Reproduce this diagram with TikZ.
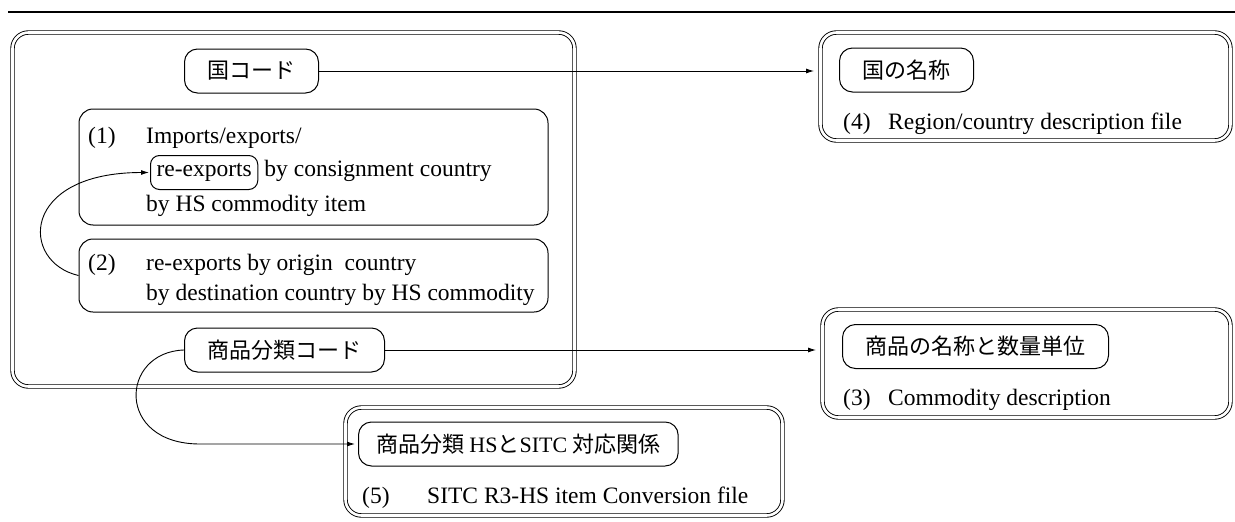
\documentclass[tikz,border=0pt]{standalone}
\usepackage{fontspec}
\setmainfont{Liberation Serif}
\newfontfamily\jp{Noto Sans CJK JP}
\usetikzlibrary{arrows.meta}
\begin{document}
\begin{tikzpicture}[x=1pt,y=-1pt,
  lat/.style={font=\fontsize{23.5}{28}\selectfont, anchor=base west, inner sep=0pt},
  key/.style={draw, line width=1pt, rounded corners=13pt, font=\jp\fontsize{22}{26}\selectfont, minimum height=44pt, inner xsep=23pt, inner ysep=0pt, anchor=west},
  ibox/.style={draw, line width=1pt, rounded corners=14pt, inner sep=0pt},
  dbox/.style={draw, line width=0.9pt, double, double distance=2.6pt, rounded corners=16pt, inner sep=0pt},
  arr/.style={line width=0.9pt, -{Latex[length=8pt,width=5pt]}},
]
\useasboundingbox (0,0) rectangle (1235,522);
% top rule
\coordinate (r0) at (8,12);
\coordinate (r1) at (1235,12);
\draw[line width=1.5pt] (r0) -- (r1);

% container and file boxes
\node[dbox, minimum width=562pt, minimum height=354pt] (main) at (293.5,209.5) {};
\node[dbox, minimum width=410pt, minimum height=108pt] (f4) at (1025.5,86.5) {};
\node[dbox, minimum width=408pt, minimum height=108pt] (f3) at (1026.5,363.5) {};
\node[dbox, minimum width=437pt, minimum height=108pt] (f5) at (564,461.5) {};

% inner boxes (1) and (2)
\node[ibox, minimum width=469pt, minimum height=116pt] (b1) at (313.5,167) {};
\node[ibox, minimum width=469pt, minimum height=73pt] (b2) at (313.5,275.5) {};

% key nodes
\node[key] (k1) at (184,71) {国コード};
\node[key] (k2) at (184,350) {商品分類コード};
\node[key] (k4) at (839,70) {国の名称};
\node[key] (k3) at (842,346.5) {商品の名称と数量単位};
\node[key, inner xsep=18pt] (k5) at (358,444) {商品分類 {\fontspec{Liberation Serif}HS}と{\fontspec{Liberation Serif}SITC} 対応関係};

% box (1) text
\node[lat] (n1) at (88,143) {(1)};
\node[lat] (t1a) at (146,143) {Imports/exports/};
\node[draw, line width=1pt, rounded corners=9pt, font=\fontsize{23.5}{28}\selectfont, minimum height=34pt, inner xsep=6pt, inner ysep=0pt, anchor=west] (re) at (150,172.5) {re-exports};
\node[lat] (t1b) at ([xshift=6pt]re.base east) {by consignment country};
\node[lat] (t1c) at (146,211) {by HS commodity item};

% box (2) text
\node[lat] (n2) at (88,270) {(2)};
\node[lat] (t2a) at (146,270) {re-exports by origin\ \ country};
\node[lat] (t2b) at (146,300) {by destination country by HS commodity};

% file box texts
\node[lat] (n4) at (843,129) {(4)};
\node[lat] (t4) at (888,129) {Region/country description file};
\node[lat] (n3) at (843,405) {(3)};
\node[lat] (t3) at (888,405) {Commodity description};
\node[lat] (n5) at (362,503) {(5)};
\node[lat] (t5) at (427,503) {SITC R3-HS item Conversion file};

% connectors
\draw[arr, shorten >=6pt] (k1.east) -- (k1.east -| f4.west);
\draw[arr, shorten >=6pt] (k2.east) -- (k2.east -| f3.west);
\draw[arr, shorten >=1pt] (b2.west) .. controls (20,262) and (20,172.5) .. (re.west);
\coordinate (bend) at (200,444);
\draw[arr, shorten >=3pt] (k2.west) .. controls (120,352) and (115,444) .. (bend) -- (k5.west);
\end{tikzpicture}
\end{document}
